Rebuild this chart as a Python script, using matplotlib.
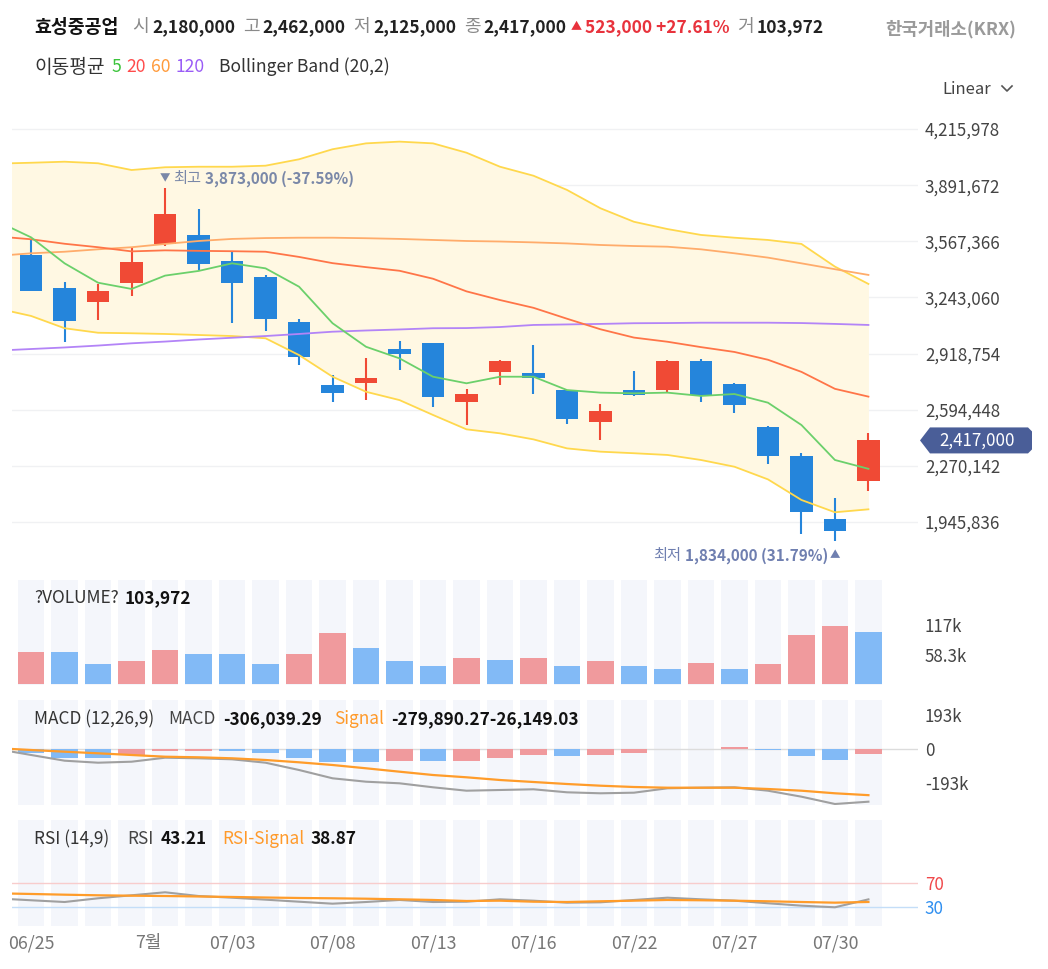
import matplotlib
matplotlib.use("Agg")
import matplotlib.pyplot as plt
import numpy as np
from matplotlib.patches import Polygon

plt.rcParams['font.family'] = ['Noto Sans CJK KR', 'DejaVu Sans']

W, H, DPI = 1048, 969, 100

# ---------------- data ----------------
xtick_pos = [0, 3.5, 6, 9, 12, 15, 18, 21, 24]
xtick_labels = ['06/25', '7월', '07/03', '07/08', '07/13', '07/16', '07/22', '07/27', '07/30']

open_ = [3488000, 3296000, 3218000, 3325000, 3550000, 3602000, 3453000, 3359000, 3099000, 2735000,
         2750000, 2945000, 2978000, 2641000, 2814000, 2805000, 2708000, 2525000, 2708000, 2708000,
         2874000, 2743000, 2493000, 2327000, 1961000, 2180000]
high = [3575000, 3330000, 3321000, 3533000, 3873000, 3754000, 3504000, 3373000, 3117000, 2795000,
        2891000, 2991000, 2980000, 2712000, 2882000, 2968000, 2710000, 2627000, 2818000, 2880000,
        2886000, 2747000, 2502000, 2343000, 2083000, 2462000]
low = [3282000, 2987000, 3113000, 3253000, 3542000, 3401000, 3094000, 3051000, 2853000, 2641000,
       2650000, 2824000, 2612000, 2506000, 2737000, 2683000, 2512000, 2419000, 2674000, 2695000,
       2641000, 2574000, 2279000, 1875000, 1834000, 2125000]
close = [3282000, 3109000, 3280000, 3446000, 3723000, 3436000, 3325000, 3117000, 2901000, 2693000,
         2779000, 2916000, 2666000, 2683000, 2874000, 2779000, 2541000, 2587000, 2679000, 2874000,
         2679000, 2622000, 2327000, 2005000, 1894000, 2417000]

# indicator lines start one session before the first visible candle
ma5 = [3682000, 3590000, 3440000, 3328000, 3292000, 3369000, 3396000, 3440000, 3411000, 3305000,
       3094000, 2958000, 2891000, 2785000, 2747000, 2785000, 2785000, 2708000, 2693000, 2689000,
       2693000, 2674000, 2685000, 2635000, 2506000, 2304000, 2253000]
ma20 = [3595000, 3579000, 3553000, 3533000, 3509000, 3515000, 3512000, 3510000, 3507000, 3477000,
        3441000, 3418000, 3397000, 3351000, 3278000, 3228000, 3183000, 3120000, 3059000, 3011000,
        2987000, 2956000, 2928000, 2883000, 2813000, 2715000, 2670000]
ma60 = [3483000, 3498000, 3507000, 3521000, 3533000, 3552000, 3569000, 3581000, 3586000, 3588000,
        3588000, 3585000, 3581000, 3575000, 3569000, 3566000, 3561000, 3555000, 3546000, 3540000,
        3536000, 3521000, 3498000, 3473000, 3440000, 3406000, 3373000]
ma120 = [2936000, 2945000, 2954000, 2965000, 2978000, 2988000, 3000000, 3010000, 3020000, 3032000,
         3045000, 3052000, 3058000, 3065000, 3066000, 3072000, 3084000, 3087000, 3090000, 3094000,
         3095000, 3097000, 3097000, 3097000, 3095000, 3090000, 3084000]
bb_upper = [4016000, 4021000, 4027000, 4018000, 3979000, 3995000, 3998000, 3998000, 4004000, 4041000,
            4099000, 4133000, 4143000, 4133000, 4079000, 3998000, 3946000, 3864000, 3758000, 3680000,
            3638000, 3604000, 3588000, 3575000, 3552000, 3421000, 3321000]
bb_lower = [3179000, 3136000, 3065000, 3039000, 3036000, 3032000, 3026000, 3020000, 3007000, 2910000,
            2785000, 2698000, 2650000, 2564000, 2481000, 2458000, 2423000, 2371000, 2352000, 2343000,
            2333000, 2304000, 2265000, 2192000, 2073000, 2002000, 2019000]

volume = [64000, 64000, 40000, 46000, 68000, 61000, 61000, 40000, 61000, 103000,
          73000, 46000, 37000, 52000, 49000, 52000, 37000, 46000, 37000, 31000,
          43000, 31000, 40000, 99000, 117000, 103972]
volume_up = [1, 0, 0, 1, 1, 0, 0, 0, 1, 1, 0, 0, 0, 1, 0, 1, 0, 1, 0, 0, 1, 0, 1, 1, 1, 0]

macd_line = [-1000, -34000, -66400, -77800, -72100, -49400, -52800, -58500, -77800, -119200,
             -166300, -185600, -194700, -217400, -236700, -232700, -228700, -245800, -251400, -248000,
             -223000, -219700, -217400, -236700, -270700, -312200, -299100]
macd_signal = [4500, -5700, -15300, -24400, -34100, -43700, -47100, -52800, -62400, -75500,
               -90800, -109500, -128800, -147600, -160600, -176000, -187300, -198700, -208300, -215700,
               -219700, -219700, -219700, -227000, -236700, -251400, -262000]
macd_hist = [-22700, -51100, -51100, -35800, -9600, -9600, -9600, -22700, -51100, -75500,
             -75500, -68100, -68100, -68100, -51100, -32400, -41400, -32400, -22700, -500,
             300, 11400, -7400, -41400, -60700, -30000]
hist_up = [0, 0, 0, 1, 1, 1, 0, 0, 0, 0, 0, 1, 0, 1, 1, 1, 0, 1, 1, 0, 1, 1, 0, 0, 0, 1]

rsi = [44.7, 41.7, 38.8, 45, 50, 55, 48.8, 46, 42.7, 39.3, 36, 38.8, 42.2, 38.8, 39.3, 43.3,
       41, 37.7, 38.3, 42.2, 46, 43.3, 41, 36.7, 32.7, 30, 43.21]
rsi_signal = [53.3, 52.2, 51, 50, 49.3, 48.8, 48, 47.2, 46.3, 45.5, 45, 44.3, 43.3, 42.2, 40.5,
              41, 39.3, 38.8, 40, 41, 42.2, 41.7, 41, 40, 38.8, 37.7, 38.87]

price_ticks = [4215978, 3891672, 3567366, 3243060, 2918754, 2594448, 2270142, 1945836]
vol_ticks = [117000, 58300]
vol_tick_labels = ['117k', '58.3k']
macd_ticks = [193000, 0, -193000]
macd_tick_labels = ['193k', '0', '-193k']

# ---------------- styling ----------------
RED = '#f04a35'
BLUE = '#2585db'
VRED = '#f09a9d'
VBLUE = '#82baf6'
COLBG = '#f4f6fb'
TXT = '#333333'
AX_FS = 12.2

fig = plt.figure(figsize=(W / DPI, H / DPI), dpi=DPI)
fig.patch.set_facecolor('white')


def px_axes(x0, y0, x1, y1):
    return fig.add_axes([x0 / W, 1 - y1 / H, (x1 - x0) / W, (y1 - y0) / H])


XL = (-0.57, 26.48)
n = len(close)
xi = np.arange(n)
xl = np.arange(-1, n)


def style(ax):
    for s in ax.spines.values():
        s.set_visible(False)
    ax.set_xlim(*XL)
    ax.yaxis.tick_right()
    ax.tick_params(axis='y', length=0, pad=5, labelsize=AX_FS, labelcolor='#444444')
    ax.tick_params(axis='x', length=0)
    ax.set_xticks([])


# ---- price panel ----
axp = px_axes(12, 100, 918, 570)
style(axp)
axp.set_ylim(1668453, 4383502)
for t in price_ticks:
    axp.axhline(t, color='#f0f1f3', lw=1.0, zorder=0)
axp.set_yticks(price_ticks)
axp.set_yticklabels([f'{t:,}' for t in price_ticks])

axp.fill_between(xl, bb_lower, bb_upper, color='#fff8e3', lw=0, zorder=1)

o = np.array(open_); c = np.array(close); hi = np.array(high); lo = np.array(low)
up = c >= o
cols = np.where(up, RED, BLUE)
axp.vlines(xi, lo, hi, colors=cols, lw=1.5, zorder=3)
axp.bar(xi, np.maximum(np.abs(c - o), 6000), bottom=np.minimum(o, c), width=0.68,
        color=cols, zorder=4, lw=0)

axp.plot(xl, bb_upper, color='#ffd84d', lw=1.3, zorder=5)
axp.plot(xl, bb_lower, color='#ffd84d', lw=1.3, zorder=5)
axp.plot(xl, ma120, color='#b384f7', lw=1.3, zorder=5)
axp.plot(xl, ma60, color='#ffac6b', lw=1.3, zorder=5)
axp.plot(xl, ma20, color='#ff7548', lw=1.3, zorder=5)
axp.plot(xl, ma5, color='#6bd06b', lw=1.3, zorder=6)

# ---- volume panel ----
axv = px_axes(12, 580, 918, 685)
style(axv)
axv.set_ylim(-2000, 208000)
axv.bar(xi, 210000, bottom=-2000, width=0.8, color=COLBG, zorder=0, lw=0)
axv.bar(xi, volume, width=0.8, color=[VRED if u else VBLUE for u in volume_up], zorder=2, lw=0)
axv.set_yticks(vol_ticks)
axv.set_yticklabels(vol_tick_labels)

# ---- MACD panel ----
axm = px_axes(12, 700, 918, 805)
style(axm)
axm.set_ylim(-317856, 278124)
axm.bar(xi, 600000, bottom=-317856, width=0.8, color=COLBG, zorder=0, lw=0)
axm.axhline(0, color='#dcdcdc', lw=1.0, zorder=1)
axm.bar(xi, macd_hist, width=0.8, color=[VRED if u else VBLUE for u in hist_up], zorder=2, lw=0)
axm.plot(xl, macd_line, color='#a0a0a0', lw=1.5, zorder=3)
axm.plot(xl, macd_signal, color='#ff9c2a', lw=1.6, zorder=4)
axm.set_yticks(macd_ticks)
axm.set_yticklabels(macd_tick_labels)

# ---- RSI panel ----
axr = px_axes(12, 820, 918, 926)
style(axr)
axr.set_ylim(-1.2, 175.5)
axr.bar(xi, 180, bottom=-1.2, width=0.8, color=COLBG, zorder=0, lw=0)
axr.axhline(70, color='#f8cccc', lw=1.0, zorder=1)
axr.axhline(30, color='#c4def8', lw=1.0, zorder=1)
axr.plot(xl, rsi, color='#a0a0a0', lw=1.5, zorder=3)
axr.plot(xl, rsi_signal, color='#ff9c2a', lw=1.6, zorder=4)
axr.set_yticks([70, 30])
axr.set_yticklabels(['70', '30'])
tl = axr.get_yticklabels()
tl[0].set_color('#f0484a')
tl[1].set_color('#2f8ff0')
axr.set_xticks(xtick_pos)
axr.set_xticklabels(xtick_labels)
axr.tick_params(axis='x', length=0, pad=6, labelsize=12.8, labelcolor='#777777')

# ---------------- overlay text ----------------
tax = fig.add_axes([0, 0, 1, 1])
tax.set_xlim(0, W)
tax.set_ylim(H, 0)
tax.axis('off')
tax.patch.set_visible(False)


def chain(ax, pieces, x, y, xycoords='data', ha='left', offset=(0, 0)):
    prev = None
    out = []
    for txt, color, weight, size, gap in pieces:
        if prev is None:
            t = ax.annotate(txt, xy=(x, y), xycoords=xycoords, xytext=offset,
                            textcoords='offset pixels', color=color, fontweight=weight,
                            fontsize=size, ha=ha, va='center', annotation_clip=False)
        else:
            fx = 1 if ha == 'left' else 0
            t = ax.annotate(txt, xy=(fx, 0.5), xycoords=prev, xytext=(gap if ha == 'left' else -gap, 0),
                            textcoords='offset pixels', color=color, fontweight=weight,
                            fontsize=size, ha=ha, va='center', annotation_clip=False)
        prev = t
        out.append(t)
    return out


HF = 12.5
GR = '#8a8a8a'
BK = '#222222'
UPC = '#e8323c'
chain(tax, [('효성중공업', '#111111', 'bold', 13.2, 0),
            ('시', GR, 'normal', 13, 14),
            ('2,180,000', BK, 'bold', HF, 3),
            ('고', GR, 'normal', 13, 8),
            ('2,462,000', BK, 'bold', HF, 3),
            ('저', GR, 'normal', 13, 8),
            ('2,125,000', BK, 'bold', HF, 3),
            ('종', GR, 'normal', 13, 8),
            ('2,417,000', BK, 'bold', HF, 3),
            ('▲', UPC, 'normal', 8, 4),
            ('523,000 +27.61%', UPC, 'bold', HF, 3),
            ('거', GR, 'normal', 13, 8),
            ('103,972', BK, 'bold', HF, 3)], 34, 27)
tax.text(1016, 29, '한국거래소(KRX)', color='#9a9a9a', fontweight='bold', fontsize=12.8,
         ha='right', va='center')

chain(tax, [('이동평균', TXT, 'normal', 13.8, 0),
            ('5', '#3cc43c', 'normal', 12.6, 7),
            ('20', '#ff4b4b', 'normal', 12.6, 5),
            ('60', '#ff9a3a', 'normal', 12.6, 5),
            ('120', '#9a5cf6', 'normal', 12.6, 5),
            ('Bollinger Band (20,2)', TXT, 'normal', 12.6, 15)], 34, 67)

tax.text(942, 89, 'Linear', color='#444444', fontsize=12, ha='left', va='center')
tax.plot([1002, 1007, 1012], [86, 91, 86], color='#555555', lw=1.2)

PF = 12.4
chain(tax, [('?VOLUME?', TXT, 'normal', PF, 0),
            ('103,972', '#111111', 'bold', PF, 6)], 34, 598)
chain(tax, [('MACD (12,26,9)', TXT, 'normal', PF, 0),
            ('MACD', '#444444', 'normal', PF, 14),
            ('-306,039.29', '#111111', 'bold', PF, 7),
            ('Signal', '#ff9a2a', 'normal', PF, 13),
            ('-279,890.27-26,149.03', '#111111', 'bold', PF, 7)], 34, 719)
chain(tax, [('RSI (14,9)', TXT, 'normal', PF, 0),
            ('RSI', '#444444', 'normal', PF, 18),
            ('43.21', '#111111', 'bold', PF, 7),
            ('RSI-Signal', '#ff9a2a', 'normal', PF, 15),
            ('38.87', '#111111', 'bold', PF, 7)], 34, 839)

# high / low markers
imax = int(np.argmax(high))
imin = int(np.argmin(low))
ANC = '#7a88a8'
chain(axp, [('▼', ANC, 'normal', 7.5, 0),
            ('최고', ANC, 'normal', 11, 3),
            ('3,873,000 (-37.59%)', ANC, 'bold', 11, 4)], imax, high[imax], ha='left', offset=(-5, 10))
chain(axp, [('▲', '#6f7fb0', 'normal', 7.5, 0),
            ('1,834,000 (31.79%)', '#6f7fb0', 'bold', 11, 1),
            ('최저', '#6f7fb0', 'normal', 11, 4)], imin, low[imin], ha='right', offset=(5, -14))

# last price tag
fig.canvas.draw()
yd = axp.transData.transform((0, close[-1]))[1]
yc = H - yd
tag = Polygon([(920, yc), (930, yc - 13), (1028, yc - 13), (1032, yc - 9), (1032, yc + 9),
               (1028, yc + 13), (930, yc + 13)], closed=True, facecolor='#4a5e98', edgecolor='none')
tax.add_patch(tag)
tax.text(977, yc, f'{close[-1]:,}', color='white', fontsize=12.2, ha='center', va='center')

fig.savefig('out.png', dpi=DPI)
